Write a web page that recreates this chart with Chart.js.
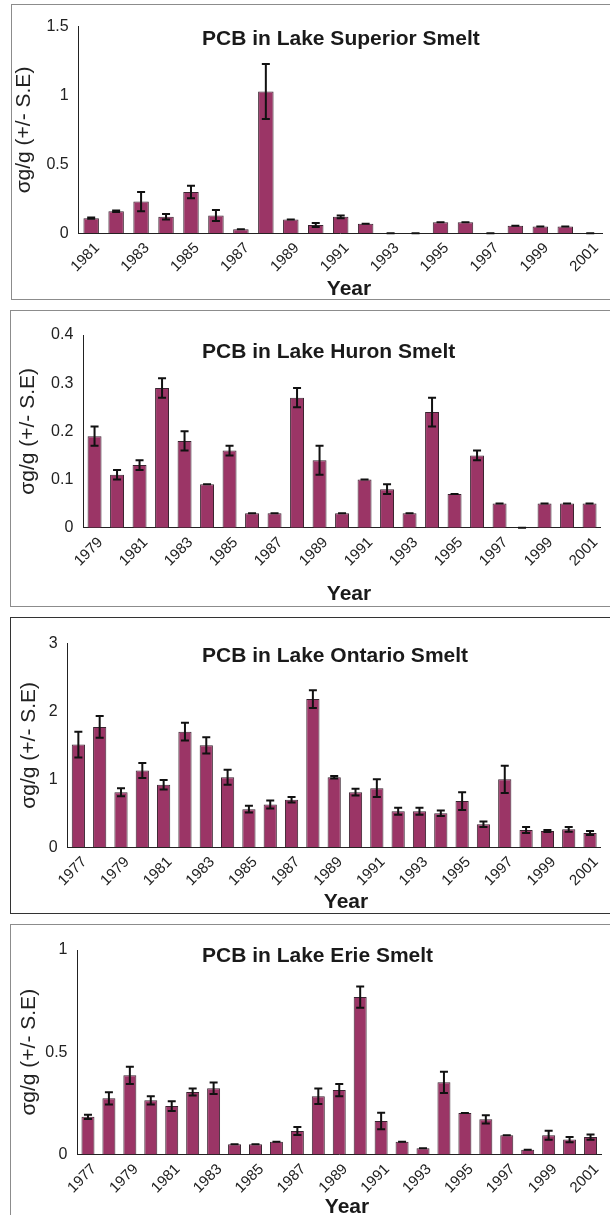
<!DOCTYPE html>
<html>
<head>
<meta charset="utf-8">
<script src="https://cdn.jsdelivr.net/npm/chart.js@4.4.0/dist/chart.umd.min.js"></script>
<style>
  body { margin: 0; background: #fff; width: 610px; height: 1215px; overflow: hidden; position: relative; }
  .frame { position: absolute; width: 640px; border: 1.5px solid #8c8c8c; box-sizing: border-box; }
  canvas { position: absolute; left: 0; }
</style>
</head>
<body>
<div class="frame" style="left:11px;top:4px;height:296px"></div>
<div class="frame" style="left:10px;top:310px;height:297px"></div>
<div class="frame" style="left:10px;top:617px;height:297px;border-color:#333"></div>
<div class="frame" style="left:10px;top:924px;height:400px"></div>
<canvas id="superiorChart" width="610" height="294" style="top:5px"></canvas>
<canvas id="huronChart" width="610" height="295" style="top:311px"></canvas>
<canvas id="ontarioChart" width="610" height="295" style="top:618px"></canvas>
<canvas id="erieChart" width="610" height="290" style="top:925px"></canvas>
<script>
// ---- data ----
const superiorYears = ["1981","1982","1983","1984","1985","1986","1987","1988","1989","1990","1991",
  "1992","1993","1994","1995","1996","1997","1998","1999","2000","2001"];
const superiorPcb = [0.11, 0.16, 0.23, 0.12, 0.30, 0.13, 0.03, 1.03, 0.10, 0.06, 0.12,
  0.07, 0, 0, 0.08, 0.08, 0, 0.055, 0.05, 0.05, 0];
const superiorErr = [0.005, 0.005, 0.07, 0.02, 0.045, 0.04, 0, 0.2, 0, 0.015, 0.01,
  0, 0, 0, 0, 0, 0, 0, 0, 0, 0];

const huronYears = ["1979","1980","1981","1982","1983","1984","1985","1986","1987","1988","1989","1990",
  "1991","1992","1993","1994","1995","1996","1997","1998","1999","2000","2001"];
const huronPcb = [0.19, 0.11, 0.13, 0.29, 0.18, 0.09, 0.16, 0.03, 0.03, 0.27, 0.14, 0.03,
  0.10, 0.08, 0.03, 0.24, 0.07, 0.15, 0.05, 0, 0.05, 0.05, 0.05];
const huronErr = [0.02, 0.01, 0.01, 0.02, 0.02, 0, 0.01, 0, 0, 0.02, 0.03, 0,
  0, 0.01, 0, 0.03, 0, 0.01, 0, 0, 0, 0, 0];

const ontarioYears = ["1977","1978","1979","1980","1981","1982","1983","1984","1985","1986","1987","1988","1989",
  "1990","1991","1992","1993","1994","1995","1996","1997","1998","1999","2000","2001"];
const ontarioPcb = [1.51, 1.77, 0.81, 1.13, 0.92, 1.70, 1.50, 1.03, 0.56, 0.63, 0.70, 2.18, 1.03,
  0.81, 0.87, 0.53, 0.53, 0.50, 0.68, 0.34, 1.00, 0.255, 0.24, 0.265, 0.21];
const ontarioErr = [0.19, 0.16, 0.06, 0.11, 0.07, 0.13, 0.12, 0.11, 0.05, 0.06, 0.04, 0.13, 0.02,
  0.05, 0.13, 0.05, 0.05, 0.04, 0.13, 0.04, 0.20, 0.045, 0.015, 0.035, 0.03];

const erieYears = ["1977","1978","1979","1980","1981","1982","1983","1984","1985","1986","1987","1988","1989",
  "1990","1991","1992","1993","1994","1995","1996","1997","1998","1999","2000","2001"];
const eriePcb = [0.184, 0.275, 0.387, 0.265, 0.237, 0.306, 0.324, 0.05, 0.05, 0.062, 0.115, 0.285, 0.315,
  0.77, 0.164, 0.062, 0.031, 0.353, 0.203, 0.172, 0.094, 0.023, 0.094, 0.073, 0.085];
const erieErr = [0.01, 0.03, 0.042, 0.02, 0.024, 0.017, 0.028, 0, 0, 0, 0.02, 0.038, 0.03,
  0.052, 0.04, 0, 0, 0.052, 0, 0.02, 0, 0, 0.022, 0.013, 0.013];

const FONT = '"Liberation Sans", Arial, sans-serif';
const BAR_COLOR = "#9b3566";

// error bars drawn from the y scale
const errorBars = {
  id: "errorBars",
  afterDatasetsDraw(chart) {
    const ds = chart.data.datasets[0];
    const meta = chart.getDatasetMeta(0);
    const y = chart.scales.y;
    const ctx = chart.ctx;
    ctx.save();
    ctx.strokeStyle = "#111";
    ctx.lineWidth = 2;
    meta.data.forEach((bar, i) => {
      const v = ds.data[i], e = ds.errors[i];
      const top = y.getPixelForValue(v + e);
      const bot = y.getPixelForValue(Math.max(0, v - e));
      ctx.beginPath();
      ctx.moveTo(bar.x, top); ctx.lineTo(bar.x, bot);
      ctx.moveTo(bar.x - 4, top); ctx.lineTo(bar.x + 4, top);
      ctx.moveTo(bar.x - 4, bot); ctx.lineTo(bar.x + 4, bot);
      ctx.stroke();
    });
    ctx.restore();
  }
};

// chart title + "Year"
const panelText = {
  id: "panelText",
  afterDraw(chart, args, opts) {
    const ctx = chart.ctx;
    ctx.save();
    ctx.fillStyle = "#1a1a1a";
    ctx.font = "bold 21px " + FONT;
    ctx.textBaseline = "alphabetic";
    ctx.textAlign = "left";
    ctx.fillText(opts.title, opts.titleX, opts.titleY);
    ctx.textAlign = "center";
    ctx.fillText("Year", opts.yearX, opts.yearY);
    ctx.restore();
  }
};

function makeChart(id, years, values, errors, yMax, yStep, box) {
  return new Chart(document.getElementById(id), {
    type: "bar",
    data: {
      labels: years,
      datasets: [{
        data: values,
        errors: errors,
        backgroundColor: BAR_COLOR,
        borderColor: "#3a2430",
        borderWidth: 1,
        barPercentage: 0.62,
        categoryPercentage: 1
      }]
    },
    options: {
      responsive: false,
      animation: false,
      layout: { padding: { top: box.top, right: box.right, left: 0, bottom: 0 } },
      plugins: {
        legend: { display: false },
        tooltip: { enabled: false },
        panelText: box.text
      },
      scales: {
        x: {
          grid: { display: false, drawTicks: false },
          border: { color: "#222", width: 1 },
          ticks: {
            autoSkip: false, minRotation: 45, maxRotation: 45, padding: 6, labelOffset: 6,
            color: "#222", font: { size: 15, family: FONT },
            callback: function (v, i) { return i % 2 === 0 ? this.getLabelForValue(v) : ""; }
          },
          afterFit: s => { s.height = box.xHeight; }
        },
        y: {
          min: 0, max: yMax,
          grid: { display: false, drawTicks: false },
          border: { color: "#222", width: 1 },
          ticks: {
            stepSize: yStep, padding: 10, color: "#222", font: { size: 16, family: FONT },
            callback: v => String(Number(v.toFixed(2)))
          },
          title: {
            display: true, text: "σg/g (+/- S.E)", color: "#222",
            font: { size: 21, family: FONT }, padding: { top: box.yTitlePad, bottom: 0 }
          },
          afterFit: s => { s.width = box.left; }
        }
      }
    },
    plugins: [errorBars, panelText]
  });
}

makeChart("superiorChart", superiorYears, superiorPcb, superiorErr, 1.5, 0.5, {
  top: 21.7, right: 7.3, left: 78.7, xHeight: 65.7, yTitlePad: 12,
  text: { title: "PCB in Lake Superior Smelt", titleX: 202, titleY: 40, yearX: 349, yearY: 290 }
});
makeChart("huronChart", huronYears, huronPcb, huronErr, 0.4, 0.1, {
  top: 24, right: 9.2, left: 83.3, xHeight: 78.3, yTitlePad: 16,
  text: { title: "PCB in Lake Huron Smelt", titleX: 202, titleY: 47, yearX: 349, yearY: 289 }
});
makeChart("ontarioChart", ontarioYears, ontarioPcb, ontarioErr, 3, 1, {
  top: 25.3, right: 9.3, left: 67.7, xHeight: 65.7, yTitlePad: 17,
  text: { title: "PCB in Lake Ontario Smelt", titleX: 202, titleY: 43.5, yearX: 346, yearY: 290 }
});
makeChart("erieChart", erieYears, eriePcb, erieErr, 1, 0.5, {
  top: 25, right: 9, left: 77.5, xHeight: 60.5, yTitlePad: 17,
  text: { title: "PCB in Lake Erie Smelt", titleX: 202, titleY: 37, yearX: 347, yearY: 288 }
});
</script>
</body>
</html>
